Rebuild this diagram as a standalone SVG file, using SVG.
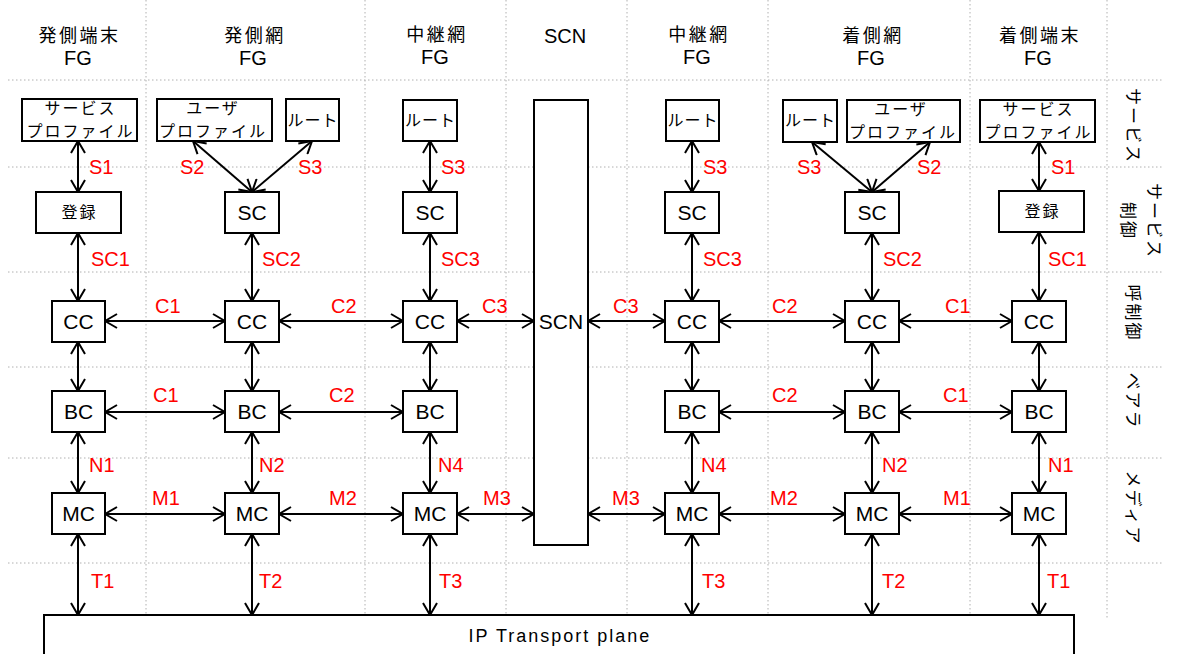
<svg xmlns="http://www.w3.org/2000/svg" width="1177" height="654" viewBox="0 0 1177 654">
<style>
.grid{stroke:#b0b0b0;stroke-width:1;stroke-dasharray:1.5 2.5;fill:none}
.box{fill:#fff;stroke:#000;stroke-width:2}
.en{font-family:"Liberation Sans",Arial,sans-serif;font-size:21px;fill:#000;text-anchor:middle}
.hd{font-family:"Liberation Sans",Arial,sans-serif;font-size:20px;fill:#000;text-anchor:middle}
.hj{font-family:"Noto Sans CJK JP","Noto Sans CJK SC",sans-serif;font-size:18px;letter-spacing:2.5px;fill:#000;text-anchor:middle}
.jp{font-family:"Noto Sans CJK JP","Noto Sans CJK SC",sans-serif;font-size:16px;letter-spacing:2px;fill:#000;text-anchor:middle}
.side{font-family:"Noto Sans CJK JP","Noto Sans CJK SC",sans-serif;font-size:17px;letter-spacing:2px;fill:#000;text-anchor:middle;dominant-baseline:central}
.red{font-family:"Liberation Sans",Arial,sans-serif;font-size:20px;fill:#ff0000}
.lk{stroke:#000;stroke-width:2;fill:none;marker-start:url(#ah);marker-end:url(#ah)}
</style>
<defs>
<marker id="ah" viewBox="0 0 14 16" refX="13" refY="8" markerWidth="14" markerHeight="16" markerUnits="userSpaceOnUse" orient="auto-start-reverse">
<path d="M1,1 L13,8 L1,15" fill="none" stroke="#000" stroke-width="2"/>
</marker>
</defs>
<rect width="1177" height="654" fill="#fff"/>
<g id="grid">
<path class="grid" d="M146,0V617 M365,0V617 M506,0V617 M627,0V617 M768,0V617 M970,0V617 M1107,0V620"/>
<path class="grid" d="M8,80H1162 M8,167H1162 M8,272H1162 M8,367H1162 M8,458H1162 M8,563H1162"/>
</g>
<g id="headers">
<text class="hj" x="79.5" y="42">発側端末</text><text class="hd" x="78" y="65">FG</text>
<text class="hj" x="255" y="42">発側網</text><text class="hd" x="253" y="65">FG</text>
<text class="hj" x="437" y="41">中継網</text><text class="hd" x="435" y="64">FG</text>
<text class="hd" x="565" y="43">SCN</text>
<text class="hj" x="699" y="41">中継網</text><text class="hd" x="697" y="64">FG</text>
<text class="hj" x="873" y="42">着側網</text><text class="hd" x="871" y="65">FG</text>
<text class="hj" x="1040" y="42">着側端末</text><text class="hd" x="1038" y="65">FG</text>
</g>
<g id="side-labels">
<text class="side" transform="translate(1134,126) rotate(90)">サービス</text>
<g transform="translate(1142,221) rotate(90)"><text class="side" x="0" y="-13">サービス</text><text class="side" x="0" y="13">制御</text></g>
<text class="side" transform="translate(1134,313) rotate(90)">呼制御</text>
<text class="side" transform="translate(1134,401) rotate(90)">ベアラ</text>
<text class="side" transform="translate(1134,508) rotate(90)">メディア</text>
</g>
<g id="connectors">
<path class="lk" d="M78,141V192"/>
<path class="lk" d="M193,141L252,192"/>
<path class="lk" d="M312,141L252,192"/>
<path class="lk" d="M430,141V192"/>
<path class="lk" d="M692,141V192"/>
<path class="lk" d="M812,142L872,192"/>
<path class="lk" d="M930,142L872,192"/>
<path class="lk" d="M1039,142V191"/>
<path class="lk" d="M78,233V301"/><path class="lk" d="M252,233V301"/><path class="lk" d="M430,233V301"/>
<path class="lk" d="M692,233V301"/><path class="lk" d="M872,233V301"/><path class="lk" d="M1039,232V301"/>
<path class="lk" d="M78,342V391"/><path class="lk" d="M252,342V391"/><path class="lk" d="M430,342V391"/>
<path class="lk" d="M692,342V391"/><path class="lk" d="M872,342V391"/><path class="lk" d="M1039,342V391"/>
<path class="lk" d="M78,432V493"/><path class="lk" d="M252,432V493"/><path class="lk" d="M430,432V493"/>
<path class="lk" d="M692,432V493"/><path class="lk" d="M872,432V493"/><path class="lk" d="M1039,432V493"/>
<path class="lk" d="M78,534V615"/><path class="lk" d="M252,534V615"/><path class="lk" d="M430,534V615"/>
<path class="lk" d="M692,534V615"/><path class="lk" d="M872,534V615"/><path class="lk" d="M1039,534V615"/>
<path class="lk" d="M105,321H225"/><path class="lk" d="M279,321H403"/><path class="lk" d="M457,321H534"/>
<path class="lk" d="M588,321H665"/><path class="lk" d="M719,321H845"/><path class="lk" d="M899,321H1012"/>
<path class="lk" d="M105,412H225"/><path class="lk" d="M279,412H403"/>
<path class="lk" d="M719,412H845"/><path class="lk" d="M899,412H1012"/>
<path class="lk" d="M105,514H225"/><path class="lk" d="M279,514H403"/><path class="lk" d="M457,514H534"/>
<path class="lk" d="M588,514H665"/><path class="lk" d="M719,514H845"/><path class="lk" d="M899,514H1012"/>
</g>
<g id="labels">
<text class="red" x="89" y="174">S1</text><text class="red" x="180" y="174">S2</text><text class="red" x="298" y="174">S3</text>
<text class="red" x="441" y="174">S3</text><text class="red" x="703" y="174">S3</text><text class="red" x="797" y="174">S3</text>
<text class="red" x="917" y="174">S2</text><text class="red" x="1051" y="174">S1</text>
<text class="red" x="91" y="266">SC1</text><text class="red" x="262" y="266">SC2</text><text class="red" x="441" y="266">SC3</text>
<text class="red" x="703" y="266">SC3</text><text class="red" x="883" y="266">SC2</text><text class="red" x="1048" y="266">SC1</text>
<text class="red" x="155" y="313">C1</text><text class="red" x="331" y="313">C2</text><text class="red" x="482" y="313">C3</text>
<text class="red" x="613" y="313">C3</text><text class="red" x="772" y="313">C2</text><text class="red" x="945" y="313">C1</text>
<text class="red" x="153" y="402">C1</text><text class="red" x="329" y="402">C2</text>
<text class="red" x="772" y="402">C2</text><text class="red" x="943" y="402">C1</text>
<text class="red" x="89" y="472">N1</text><text class="red" x="259" y="472">N2</text><text class="red" x="438" y="472">N4</text>
<text class="red" x="701" y="472">N4</text><text class="red" x="882" y="472">N2</text><text class="red" x="1048" y="472">N1</text>
<text class="red" x="152" y="505">M1</text><text class="red" x="329" y="505">M2</text><text class="red" x="483" y="505">M3</text>
<text class="red" x="612" y="505">M3</text><text class="red" x="770" y="505">M2</text><text class="red" x="943" y="505">M1</text>
<text class="red" x="91" y="588">T1</text><text class="red" x="259" y="588">T2</text><text class="red" x="439" y="588">T3</text>
<text class="red" x="702" y="588">T3</text><text class="red" x="882" y="588">T2</text><text class="red" x="1047" y="588">T1</text>
</g>
<g id="svc-profile-1"><rect class="box" x="22" y="99" width="115" height="42"/><text class="jp" x="80.5" y="114">サービス</text><text class="jp" x="80.5" y="137">プロファイル</text></g>
<g id="user-profile-2"><rect class="box" x="157" y="99" width="115" height="42"/><text class="jp" x="213" y="114">ユーザ</text><text class="jp" x="213" y="137">プロファイル</text></g>
<g id="route-2"><rect class="box" x="286" y="99" width="53" height="42"/><text class="jp" x="313" y="126" style="letter-spacing:1px">ルート</text></g>
<g id="route-3"><rect class="box" x="403" y="100" width="54" height="41"/><text class="jp" x="430.5" y="126" style="letter-spacing:1px">ルート</text></g>
<g id="scn"><rect class="box" x="534" y="100" width="54" height="445"/><text class="en" x="561" y="329">SCN</text></g>
<g id="route-5"><rect class="box" x="666" y="100" width="53" height="41"/><text class="jp" x="693" y="126" style="letter-spacing:1px">ルート</text></g>
<g id="route-6"><rect class="box" x="783" y="100" width="54" height="42"/><text class="jp" x="810.5" y="126" style="letter-spacing:1px">ルート</text></g>
<g id="user-profile-6"><rect class="box" x="847" y="100" width="113" height="42"/><text class="jp" x="901" y="115">ユーザ</text><text class="jp" x="903" y="138">プロファイル</text></g>
<g id="svc-profile-7"><rect class="box" x="980" y="100" width="115" height="42"/><text class="jp" x="1038.5" y="115">サービス</text><text class="jp" x="1038.5" y="138">プロファイル</text></g>
<g id="reg-1"><rect class="box" x="36" y="192" width="85" height="41"/><text class="jp" x="79.5" y="218">登録</text></g>
<g id="sc-2"><rect class="box" x="225" y="192" width="54" height="41"/><text class="en" x="252" y="220">SC</text></g>
<g id="sc-3"><rect class="box" x="403" y="192" width="54" height="41"/><text class="en" x="430" y="220">SC</text></g>
<g id="sc-5"><rect class="box" x="665" y="192" width="54" height="41"/><text class="en" x="692" y="220">SC</text></g>
<g id="sc-6"><rect class="box" x="845" y="192" width="54" height="41"/><text class="en" x="872" y="220">SC</text></g>
<g id="reg-7"><rect class="box" x="999" y="191" width="85" height="41"/><text class="jp" x="1042.5" y="217">登録</text></g>
<g id="cc-1"><rect class="box" x="52" y="301" width="53" height="41"/><text class="en" x="78.5" y="329">CC</text></g>
<g id="cc-2"><rect class="box" x="225" y="301" width="54" height="41"/><text class="en" x="252" y="329">CC</text></g>
<g id="cc-3"><rect class="box" x="403" y="301" width="54" height="41"/><text class="en" x="430" y="329">CC</text></g>
<g id="cc-5"><rect class="box" x="665" y="301" width="54" height="41"/><text class="en" x="692" y="329">CC</text></g>
<g id="cc-6"><rect class="box" x="845" y="301" width="54" height="41"/><text class="en" x="872" y="329">CC</text></g>
<g id="cc-7"><rect class="box" x="1012" y="301" width="54" height="41"/><text class="en" x="1039" y="329">CC</text></g>
<g id="bc-1"><rect class="box" x="52" y="391" width="53" height="41"/><text class="en" x="78.5" y="419">BC</text></g>
<g id="bc-2"><rect class="box" x="225" y="391" width="54" height="41"/><text class="en" x="252" y="419">BC</text></g>
<g id="bc-3"><rect class="box" x="403" y="391" width="54" height="41"/><text class="en" x="430" y="419">BC</text></g>
<g id="bc-5"><rect class="box" x="665" y="391" width="54" height="41"/><text class="en" x="692" y="419">BC</text></g>
<g id="bc-6"><rect class="box" x="845" y="391" width="54" height="41"/><text class="en" x="872" y="419">BC</text></g>
<g id="bc-7"><rect class="box" x="1012" y="391" width="54" height="41"/><text class="en" x="1039" y="419">BC</text></g>
<g id="mc-1"><rect class="box" x="52" y="493" width="53" height="41"/><text class="en" x="78.5" y="521">MC</text></g>
<g id="mc-2"><rect class="box" x="225" y="493" width="54" height="41"/><text class="en" x="252" y="521">MC</text></g>
<g id="mc-3"><rect class="box" x="403" y="493" width="54" height="41"/><text class="en" x="430" y="521">MC</text></g>
<g id="mc-5"><rect class="box" x="665" y="493" width="54" height="41"/><text class="en" x="692" y="521">MC</text></g>
<g id="mc-6"><rect class="box" x="845" y="493" width="54" height="41"/><text class="en" x="872" y="521">MC</text></g>
<g id="mc-7"><rect class="box" x="1012" y="493" width="54" height="41"/><text class="en" x="1039" y="521">MC</text></g>
<g id="ip-plane"><rect class="box" x="44" y="615" width="1030" height="60"/><text class="hd" x="560" y="642" style="font-size:18px;letter-spacing:2px">IP Transport plane</text></g>
</svg>
